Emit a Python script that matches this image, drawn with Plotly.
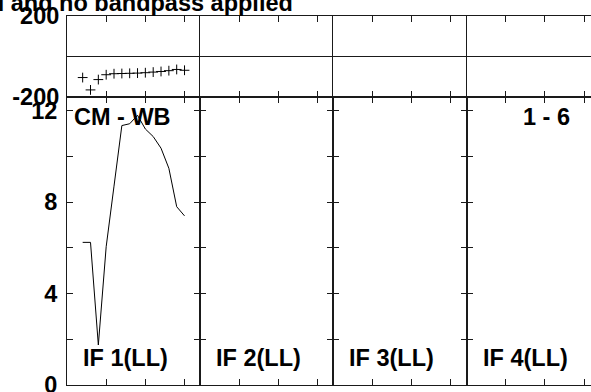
import plotly.graph_objects as go

# ---- data ----
channels = list(range(1, 15))
phase_if1 = [-104, -165, -114, -90, -85, -84, -83, -82, -80, -77, -74, -70, -64, -68]
amp_if1 = [6.24, 6.24, 1.75, 6.05, 8.7, 11.35, 11.43, 11.8, 11.2, 10.87, 10.36, 9.48, 7.8, 7.4]
if_labels = ["IF 1(LL)", "IF 2(LL)", "IF 3(LL)", "IF 4(LL)"]
phase_ticks = [-200, 200]
phase_ticktext = ["-200", "200"]
amp_ticks = [0, 2, 4, 6, 8, 10, 12]
amp_ticktext = ["0", "", "4", "", "8", "", "12"]
x_ticks = [4, 9, 14]
title_text = "Baseline averaged spectrum, gain cal and no bandpass applied"
source_label = "CM - WB"
baseline_label = "1 - 6"

# ---- layout geometry (pixels) ----
W, H = 591, 392
L, R, T, B = 67, 0, 16, 7
PW = W - L - R
PH = H - T - B
panel_w = 133.2
ch_px = panel_w / 17.0
amp_top_px = 97
amp_bot_px = 385

def pxx(x):
    return (x - L) / PW

def pxy(y):
    return (H - B - y) / PH

FONT = "Liberation Sans"
FS = 23.5
BLACK = "#000000"
LINEC = "#1a1a1a"
TFONT = dict(family=FONT, size=FS, color=BLACK, weight="bold")

fig = go.Figure()

ph_data = [phase_if1, [], [], []]
am_data = [amp_if1, [], [], []]

layout = {}
for i in range(4):
    x0 = L + i * panel_w
    x1 = min(x0 + panel_w, W)
    dom = [pxx(x0), min(pxx(x1), 1.0)]
    xr = [-1, -1 + (x1 - x0) / ch_px]
    top_idx = i + 1
    bot_idx = i + 5
    chs = channels if ph_data[i] else []
    fig.add_trace(go.Scatter(
        x=chs, y=ph_data[i], mode="markers",
        marker=dict(symbol="cross-thin-open", size=7, color=BLACK,
                    line=dict(width=1, color=BLACK)),
        xaxis=f"x{top_idx}", yaxis=f"y{top_idx}", hoverinfo="skip"))
    chs2 = channels if am_data[i] else []
    fig.add_trace(go.Scatter(
        x=chs2, y=am_data[i], mode="lines",
        line=dict(width=1, color=BLACK),
        xaxis=f"x{bot_idx}", yaxis=f"y{bot_idx}", hoverinfo="skip"))

    last = (i == 3)
    common_x = dict(domain=dom, range=xr, showgrid=False, zeroline=False,
                    automargin=False,
                    showline=True, linecolor=LINEC, linewidth=1,
                    mirror="ticks", ticks="inside", ticklen=6, tickwidth=1,
                    tickcolor=LINEC, tickvals=x_ticks, showticklabels=False)
    layout[f"xaxis{top_idx}"] = dict(common_x, anchor=f"y{top_idx}")
    layout[f"xaxis{bot_idx}"] = dict(common_x, anchor=f"y{bot_idx}")

    layout[f"yaxis{top_idx}"] = dict(
        domain=[pxy(amp_top_px), 1.0], range=[-200, 200], anchor=f"x{top_idx}",
        showgrid=False, zeroline=True, zerolinecolor=LINEC, zerolinewidth=1,
        automargin=False,
        showline=True, linecolor=LINEC, linewidth=1, mirror=False,
        ticks="", tickvals=phase_ticks, ticktext=phase_ticktext,
        showticklabels=(i == 0), ticklabelstandoff=2,
        ticklabeloverflow="allow",
        tickfont=TFONT)
    layout[f"yaxis{bot_idx}"] = dict(
        domain=[0, pxy(amp_top_px)], range=[0, 12.6], anchor=f"x{bot_idx}",
        showgrid=False, zeroline=False, automargin=False,
        showline=True, linecolor=LINEC, linewidth=1,
        mirror=(False if last else "ticks"),
        ticks="inside", ticklen=6, tickwidth=1, tickcolor=LINEC,
        tickvals=amp_ticks, ticktext=amp_ticktext,
        showticklabels=(i == 0), ticklabelstandoff=4,
        ticklabeloverflow="allow",
        tickfont=TFONT)

annotations = []
for i, lab in enumerate(if_labels):
    annotations.append(dict(
        text=lab, xref="paper", yref="paper",
        x=pxx(L + i * panel_w + 14), y=pxy(358), xanchor="left", yanchor="middle",
        showarrow=False, font=TFONT))
annotations.append(dict(
    text=source_label, xref="paper", yref="paper",
    x=pxx(72), y=pxy(116.5), xanchor="left", yanchor="middle",
    showarrow=False, font=TFONT))
annotations.append(dict(
    text=baseline_label, xref="paper", yref="paper",
    x=pxx(572), y=pxy(116.5), xanchor="right", yanchor="middle",
    showarrow=False, font=TFONT))
annotations.append(dict(
    text=title_text, xref="paper", yref="paper",
    x=pxx(295), y=pxy(3), xanchor="right", yanchor="middle",
    showarrow=False, font=TFONT))

fig.update_layout(
    width=W, height=H,
    margin=dict(l=L, r=R, t=T, b=B, pad=0, autoexpand=False),
    showlegend=False,
    plot_bgcolor="white", paper_bgcolor="white",
    font=dict(family=FONT, size=FS, color=BLACK),
    annotations=annotations,
    **layout)

fig.write_html(
    "out.html",
    config={"displayModeBar": False},
    post_script="document.body.style.margin='0px';document.body.style.overflow='hidden';")
